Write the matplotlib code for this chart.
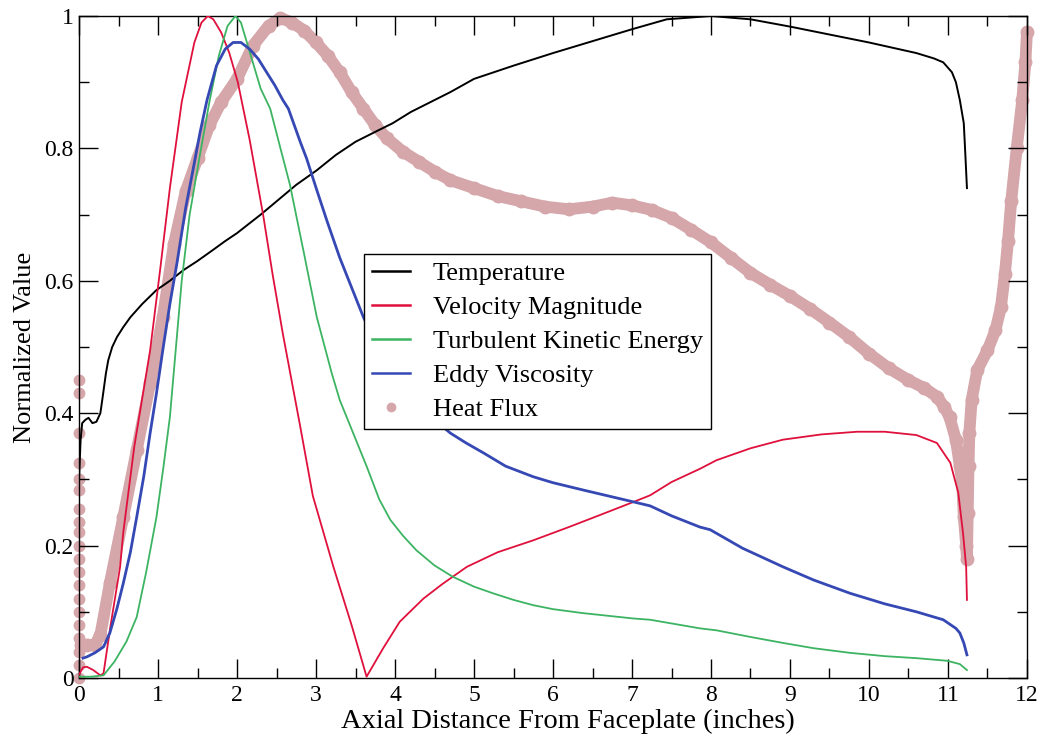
import matplotlib
matplotlib.use("Agg")
import matplotlib.pyplot as plt
from matplotlib.lines import Line2D
from matplotlib.ticker import MultipleLocator, FuncFormatter

# Normalized profiles along the chamber axis (x in inches)
temp_x = [0.0, 0.02, 0.04, 0.08, 0.12, 0.17, 0.22, 0.27, 0.30, 0.34, 0.37, 0.42,
          0.48, 0.56, 0.65, 0.80, 0.98, 1.15, 1.32, 1.50, 1.70, 1.85, 2.00, 2.16,
          2.30, 2.50, 2.75, 3.01, 3.25, 3.50, 3.75, 3.97, 4.20, 4.45, 4.70, 5.00,
          5.50, 6.00, 6.50, 7.00, 7.44, 8.00, 8.50, 9.00, 9.50, 10.00, 10.30,
          10.60, 10.82, 10.94, 11.05, 11.10, 11.15, 11.20, 11.22, 11.24]
temp_y = [0.30, 0.36, 0.385, 0.39, 0.393, 0.385, 0.387, 0.40, 0.425, 0.46, 0.48,
          0.50, 0.515, 0.53, 0.545, 0.565, 0.586, 0.60, 0.616, 0.63, 0.647, 0.66,
          0.672, 0.687, 0.70, 0.72, 0.745, 0.767, 0.79, 0.81, 0.825, 0.838, 0.855,
          0.87, 0.885, 0.905, 0.925, 0.944, 0.962, 0.98, 0.995, 1.0, 0.995, 0.984,
          0.972, 0.96, 0.952, 0.944, 0.936, 0.93, 0.915, 0.90, 0.873, 0.838, 0.79,
          0.74]

vel_x = [0.0, 0.05, 0.10, 0.18, 0.27, 0.31, 0.40, 0.52, 0.56, 0.70, 0.90, 1.03,
         1.15, 1.30, 1.46, 1.55, 1.63, 1.70, 1.80, 1.90, 2.01, 2.16, 2.33, 2.45,
         2.58, 2.80, 2.96, 3.22, 3.45, 3.64, 3.85, 4.06, 4.36, 4.60, 4.91, 5.30,
         5.75, 6.20, 6.59, 7.02, 7.23, 7.50, 7.86, 8.07, 8.50, 8.91, 9.40, 9.85,
         10.20, 10.60, 10.86, 11.03, 11.13, 11.19, 11.23, 11.24]
vel_y = [0.005, 0.016, 0.017, 0.012, 0.004, 0.007, 0.08, 0.168, 0.22, 0.35, 0.495,
         0.62, 0.74, 0.87, 0.96, 0.99, 1.0, 0.995, 0.975, 0.945, 0.90, 0.813, 0.70,
         0.61, 0.52, 0.38, 0.275, 0.168, 0.08, 0.002, 0.045, 0.085, 0.12, 0.142,
         0.168, 0.19, 0.208, 0.228, 0.246, 0.266, 0.276, 0.296, 0.316, 0.329,
         0.347, 0.36, 0.368, 0.372, 0.372, 0.367, 0.355, 0.325, 0.28, 0.219,
         0.168, 0.118]

tke_x = [0.0, 0.15, 0.31, 0.45, 0.60, 0.73, 0.85, 0.98, 1.07, 1.15, 1.30, 1.40,
         1.53, 1.65, 1.77, 1.88, 1.98, 2.05, 2.15, 2.30, 2.42, 2.55, 2.67, 2.85,
         3.01, 3.20, 3.30, 3.47, 3.64, 3.80, 3.94, 4.10, 4.27, 4.50, 4.73, 5.00,
         5.24, 5.50, 5.75, 6.00, 6.38, 7.01, 7.23, 7.86, 8.07, 8.50, 8.91, 9.30,
         9.76, 10.20, 10.60, 10.99, 11.15, 11.24]
tke_y = [0.002, 0.002, 0.004, 0.025, 0.055, 0.092, 0.16, 0.243, 0.32, 0.394, 0.60,
         0.70, 0.79, 0.87, 0.94, 0.985, 1.0, 0.99, 0.95, 0.89, 0.86, 0.80, 0.745,
         0.64, 0.545, 0.46, 0.42, 0.37, 0.32, 0.27, 0.239, 0.215, 0.193, 0.17,
         0.153, 0.138, 0.128, 0.118, 0.11, 0.104, 0.098, 0.09, 0.088, 0.075,
         0.072, 0.062, 0.053, 0.045, 0.038, 0.033, 0.03, 0.026, 0.021, 0.012]

eddy_x = [0.05, 0.10, 0.20, 0.31, 0.39, 0.48, 0.56, 0.65, 0.73, 0.82, 0.90, 0.98,
          1.06, 1.15, 1.24, 1.35, 1.45, 1.53, 1.62, 1.74, 1.85, 1.95, 2.05, 2.16,
          2.27, 2.38, 2.48, 2.58, 2.65, 2.80, 2.88, 3.01, 3.14, 3.30, 3.43, 3.60,
          3.80, 4.00, 4.20, 4.45, 4.70, 4.90, 5.12, 5.40, 5.75, 6.00, 6.38, 6.70,
          7.02, 7.23, 7.50, 7.86, 7.99, 8.40, 8.91, 9.30, 9.76, 10.20, 10.60,
          10.94, 11.10, 11.15, 11.20, 11.24]
eddy_y = [0.03, 0.032, 0.038, 0.047, 0.068, 0.105, 0.143, 0.19, 0.243, 0.305, 0.37,
          0.43, 0.495, 0.565, 0.627, 0.71, 0.772, 0.823, 0.873, 0.925, 0.95, 0.96,
          0.96, 0.95, 0.935, 0.914, 0.895, 0.873, 0.86, 0.81, 0.785, 0.737, 0.69,
          0.635, 0.596, 0.545, 0.495, 0.455, 0.425, 0.395, 0.37, 0.355, 0.34,
          0.32, 0.304, 0.295, 0.284, 0.275, 0.266, 0.26, 0.245, 0.228, 0.224,
          0.196, 0.168, 0.148, 0.128, 0.112, 0.10, 0.088, 0.075, 0.068, 0.053,
          0.035]

flux_x = [0.03, 0.10, 0.20, 0.27, 0.39, 0.56, 0.73, 0.90, 1.06, 1.20, 1.35, 1.50,
          1.65, 1.80, 2.00, 2.20, 2.40, 2.55, 2.70, 2.85, 3.00, 3.15, 3.30, 3.45,
          3.60, 3.75, 3.90, 4.10, 4.30, 4.50, 4.70, 5.00, 5.30, 5.60, 5.90, 6.20,
          6.50, 6.75, 7.00, 7.25, 7.50, 7.75, 8.00, 8.25, 8.50, 8.75, 9.00, 9.25,
          9.50, 9.75, 10.00, 10.25, 10.50, 10.70, 10.86, 10.95, 11.02, 11.10,
          11.15, 11.18, 11.20, 11.23, 11.24, 11.25, 11.26, 11.27, 11.30, 11.37,
          11.50, 11.60, 11.67, 11.72, 11.76, 11.80, 11.87, 11.94, 11.98, 12.00]
flux_y = [0.05, 0.05, 0.05, 0.065, 0.143, 0.243, 0.344, 0.445, 0.545, 0.655, 0.735,
          0.785, 0.835, 0.87, 0.905, 0.955, 0.985, 0.997, 0.99, 0.978, 0.96, 0.94,
          0.915, 0.885, 0.86, 0.835, 0.815, 0.795, 0.78, 0.765, 0.752, 0.74, 0.728,
          0.72, 0.712, 0.708, 0.712, 0.718, 0.714, 0.707, 0.695, 0.677, 0.658,
          0.635, 0.612, 0.594, 0.577, 0.558, 0.537, 0.515, 0.49, 0.468, 0.45,
          0.438, 0.425, 0.41, 0.394, 0.36, 0.32, 0.294, 0.243, 0.20, 0.18, 0.25,
          0.32, 0.37, 0.42, 0.465, 0.495, 0.525, 0.56, 0.61, 0.66, 0.72, 0.80,
          0.873, 0.93, 0.976]
# scattered samples right at the faceplate
wall_x = [0.0] * 20
wall_y = [0.0, 0.02, 0.04, 0.06, 0.08, 0.10, 0.12, 0.14, 0.16, 0.18, 0.20, 0.22,
          0.235, 0.256, 0.284, 0.30, 0.325, 0.37, 0.43, 0.45]

PINK = "#d5a6aa"
RED = "#e0103c"
GREEN = "#3cb462"
BLUE = "#3548b4"

plt.rcParams["font.family"] = ["Liberation Serif", "DejaVu Serif"]

fig = plt.figure(figsize=(10.44, 7.44), dpi=100)
ax = fig.add_axes([0.0757, 0.0887, 0.908, 0.8898])

ax.plot(flux_x, flux_y, color=PINK, lw=8.5, solid_capstyle="round",
        solid_joinstyle="round", marker="o", ms=9, mec=PINK, mfc=PINK,
        clip_on=False, zorder=1)
ax.plot(wall_x, wall_y, ls="none", marker="o", ms=7.5, mec=PINK, mfc=PINK,
        clip_on=False, zorder=1)

ax.plot(temp_x, temp_y, color="black", lw=1.4, zorder=3)
ax.plot(vel_x, vel_y, color=RED, lw=1.3, zorder=3)
ax.plot(tke_x, tke_y, color=GREEN, lw=1.3, zorder=3)
ax.plot(eddy_x, eddy_y, color=BLUE, lw=2.0, zorder=3)

ax.set_xlim(0, 12)
ax.set_ylim(0, 1)
ax.xaxis.set_major_locator(MultipleLocator(1))
ax.xaxis.set_minor_locator(MultipleLocator(0.5))
ax.yaxis.set_major_locator(MultipleLocator(0.2))
ax.yaxis.set_minor_locator(MultipleLocator(0.1))
ax.yaxis.set_major_formatter(FuncFormatter(lambda v, p: f"{v:g}"))
ax.tick_params(which="both", direction="in", top=True, right=True,
               width=1.0, labelsize=17)
ax.tick_params(which="major", length=14)
ax.tick_params(which="minor", length=7.5)
ax.tick_params(axis="x", pad=5)
ax.tick_params(axis="y", pad=4)
for s in ax.spines.values():
    s.set_linewidth(1.0)

ax.set_xlabel("Axial Distance From Faceplate (inches)", fontsize=20.5)
ax.xaxis.set_label_coords(0.516, -0.047)
ax.set_ylabel("Normalized Value", fontsize=19, labelpad=6)

handles = [
    Line2D([], [], color="black", lw=1.8),
    Line2D([], [], color=RED, lw=1.8),
    Line2D([], [], color=GREEN, lw=1.8),
    Line2D([], [], color=BLUE, lw=1.8),
    Line2D([], [], ls="none", marker="o", ms=6, mfc=PINK, mec=PINK),
]
labels = ["Temperature", "Velocity Magnitude", "Turbulent Kinetic Energy",
          "Eddy Viscosity", "Heat Flux"]
leg = ax.legend(handles, labels, loc="upper left",
                bbox_to_anchor=(0.3006, 0.6405), borderaxespad=0,
                fontsize=19, frameon=True, fancybox=False, framealpha=1,
                edgecolor="black", handlelength=1.45, handletextpad=0.85,
                labelspacing=0.4, borderpad=0.3)
leg.get_frame().set_linewidth(1.0)
leg.set_zorder(5)

fig.savefig("out.png", dpi=100)
